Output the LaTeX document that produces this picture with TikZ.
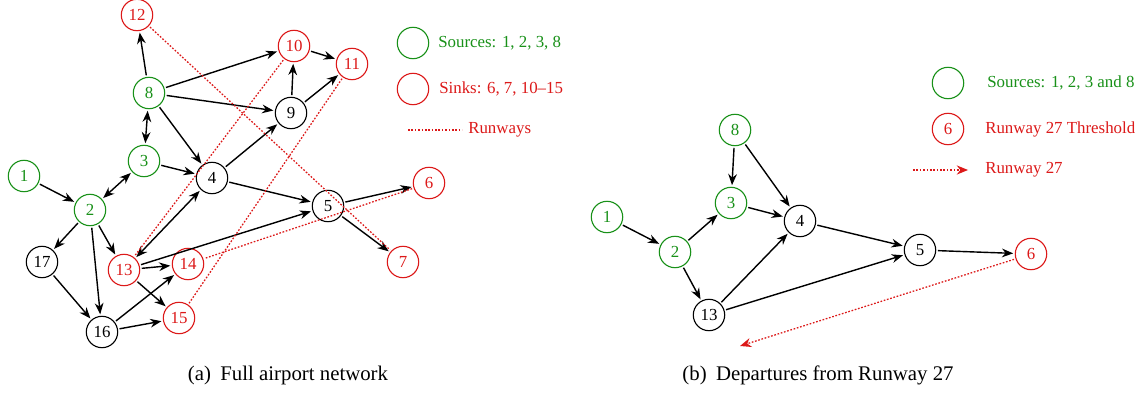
\documentclass[tikz,border=0pt]{standalone}
\usepackage{fontspec}
\setmainfont{Liberation Serif}
\usetikzlibrary{arrows.meta}
\definecolor{srcgreen}{RGB}{25,145,25}
\definecolor{sinkred}{RGB}{220,25,25}
\begin{document}
\begin{tikzpicture}[x=0.025cm,y=-0.025cm,
  nd/.style={circle,draw,line width=0.8pt,minimum size=0.785cm,inner sep=0pt,outer sep=1.5pt,font=\fontsize{12}{14}\selectfont},
  src/.style={nd,draw=srcgreen,text=srcgreen},
  snk/.style={nd,draw=sinkred,text=sinkred},
  arr/.style={-{Stealth[length=8pt,width=6.2pt]},line width=1pt},
  darr/.style={{Stealth[length=8pt,width=6.2pt]}-{Stealth[length=8pt,width=6.2pt]},line width=1pt},
  rwy/.style={sinkred,dash pattern=on 1.2pt off 1.2pt,line width=0.9pt},
  rwyarr/.style={rwy,-{Stealth[length=8pt,width=6.5pt,fill=sinkred]}},
  lbl/.style={anchor=west,inner sep=0pt,font=\fontsize{12}{14}\selectfont},
  captext/.style={font=\fontsize{14.8}{17}\selectfont}]
\useasboundingbox (0,0) rectangle (1144,393);

% ---------- panel (a) ----------
\node[snk] (a12) at (137,15) {12};
\node[snk] (a10) at (294,46) {10};
\node[snk] (a11) at (352,64) {11};
\node[src] (a8) at (149,93) {8};
\node[nd] (a9) at (291,113) {9};
\node[src] (a3) at (144,161) {3};
\node[nd] (a4) at (212,178) {4};
\node[src] (a1) at (24,176) {1};
\node[src] (a2) at (90,210) {2};
\node[nd] (a5) at (328,206) {5};
\node[snk] (a6) at (429,183) {6};
\node[snk] (a7) at (403,262) {7};
\node[nd] (a17) at (42,262) {17};
\node[snk] (a13) at (124,270) {13};
\node[snk] (a14) at (188,264) {14};
\node[snk] (a15) at (179,318) {15};
\node[nd] (a16) at (102,332) {16};

\draw[arr] (a8) -- (a12);
\draw[arr] (a8) -- (a10);
\draw[arr] (a8) -- (a9);
\draw[arr] (a8) -- (a4);
\draw[darr] (a8) -- (a3);
\draw[arr] (a10) -- (a11);
\draw[arr] (a9) -- (a10);
\draw[arr] (a9) -- (a11);
\draw[arr] (a3) -- (a4);
\draw[arr] (a4) -- (a9);
\draw[arr] (a4) -- (a5);
\draw[arr] (a1) -- (a2);
\draw[darr] (a2) -- (a3);
\draw[arr] (a2) -- (a17);
\draw[arr] (a2) -- (a13);
\draw[arr] (a2) -- (a16);
\draw[arr] (a17) -- (a16);
\draw[darr] (a13) -- (a4);
\draw[arr] (a13) -- (a5);
\draw[arr] (a13) -- (a14);
\draw[arr] (a13) -- (a15);
\draw[arr] (a16) -- (a14);
\draw[arr] (a16) -- (a15);
\draw[arr] (a5) -- (a6);
\draw[arr] (a5) -- (a7);

\draw[rwy] (a12) -- (a7);
\draw[rwy] (a10) -- (a13);
\draw[rwy] (a11) -- (a15);
\draw[rwy] (a6) -- (a14);

% legend (a)
\node[nd,draw=srcgreen] (la1) at (413,43) {};
\node[lbl,text=srcgreen] (la1t) at (438,43) {Sources: 1, 2, 3, 8};
\node[nd,draw=sinkred] (la2) at (413,89) {};
\node[lbl,text=sinkred] (la2t) at (439,89) {Sinks: 6, 7, 10--15};
\coordinate (la3s) at (408,130);
\coordinate (la3e) at (462,130);
\draw[rwy] (la3s) -- (la3e);
\node[lbl,text=sinkred] (la3t) at (468,130) {Runways};

\node[captext] (capa) at (288,375) {(a)\hspace{0.45em}Full airport network};

% ---------- panel (b) ----------
\node[src] (b8) at (735,130) {8};
\node[src] (b3) at (731,203) {3};
\node[nd] (b4) at (800,221) {4};
\node[src] (b1) at (607,217) {1};
\node[src] (b2) at (675,252) {2};
\node[nd] (b13) at (709,315) {13};
\node[nd] (b5) at (920,250) {5};
\node[snk] (b6) at (1031,254) {6};
\coordinate (bend) at (740,346);

\draw[arr] (b8) -- (b3);
\draw[arr] (b8) -- (b4);
\draw[arr] (b3) -- (b4);
\draw[arr] (b1) -- (b2);
\draw[arr] (b2) -- (b3);
\draw[arr] (b2) -- (b13);
\draw[arr] (b13) -- (b4);
\draw[arr] (b13) -- (b5);
\draw[arr] (b4) -- (b5);
\draw[arr] (b5) -- (b6);
\draw[rwyarr] (b6) -- (bend);

% legend (b)
\node[nd,draw=srcgreen] (lb1) at (948,83) {};
\node[lbl,text=srcgreen] (lb1t) at (987,83) {Sources: 1, 2, 3 and 8};
\node[snk] (lb2) at (948,129) {6};
\node[lbl,text=sinkred] (lb2t) at (985,129) {Runway 27 Threshold};
\coordinate (lb3s) at (913,170);
\coordinate (lb3e) at (968,170);
\draw[rwyarr] (lb3s) -- (lb3e);
\node[lbl,text=sinkred] (lb3t) at (985,170) {Runway 27};

\node[captext] (capb) at (818,375) {(b)\hspace{0.45em}Departures from Runway 27};
\end{tikzpicture}
\end{document}
